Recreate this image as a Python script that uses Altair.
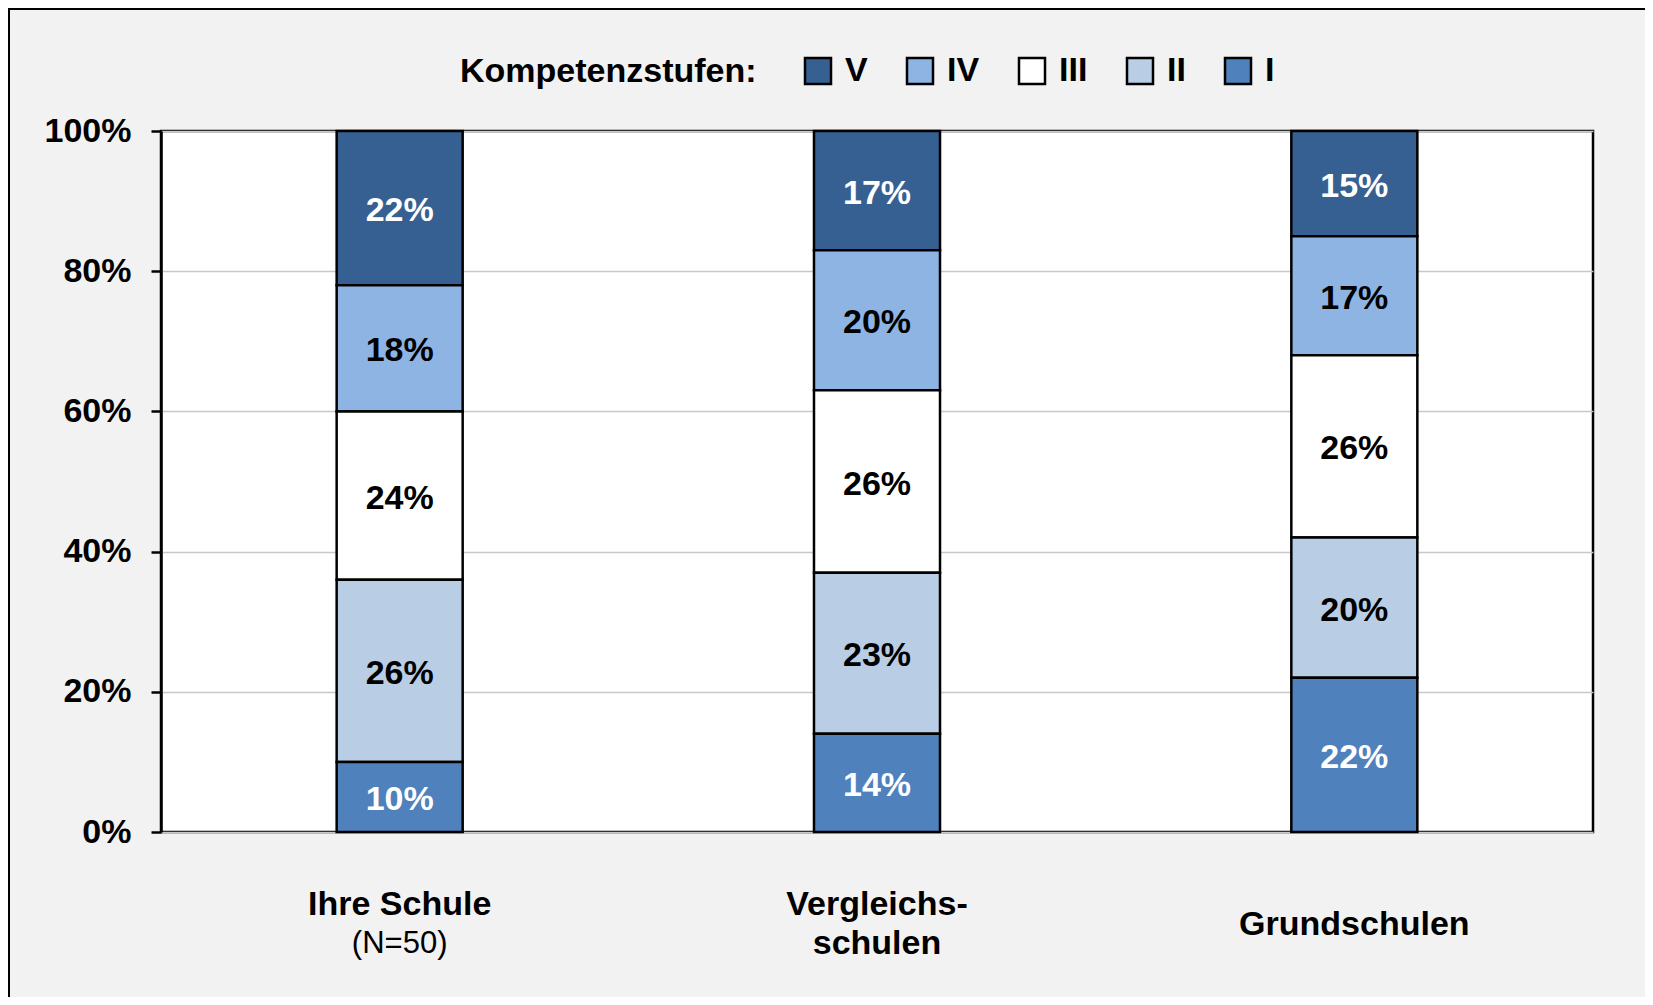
import altair as alt
import pandas as pd

categories = ["Ihre Schule", "Vergleichsschulen", "Grundschulen"]
levels = ["V", "IV", "III", "II", "I"]
stack_rank = [5, 4, 3, 2, 1]
values_V = [22, 17, 15]
values_IV = [18, 20, 17]
values_III = [24, 26, 26]
values_II = [26, 23, 20]
values_I = [10, 14, 22]
colors = ["#376092", "#8eb4e3", "#ffffff", "#b9cde5", "#4f81bd"]
label_main = ["Ihre Schule", "Vergleichs-\nschulen", "Grundschulen"]
label_sub = ["(N=50)", "", ""]
y_ticks = [0, 20, 40, 60, 80, 100]

FONT = "Liberation Sans"

series = {"V": values_V, "IV": values_IV, "III": values_III, "II": values_II, "I": values_I}
rows = []
for lvl, rk in zip(levels, stack_rank):
    for cat, v in zip(categories, series[lvl]):
        rows.append({"category": cat, "level": lvl, "rank": rk, "value": v})
df = pd.DataFrame(rows)
df_cat = pd.DataFrame({"category": categories, "main": label_main, "sub": label_sub})

W, H = 1432, 701
PAD = {"left": 153, "top": 123, "right": 52, "bottom": 165}
LINE = 39

xenc = alt.X("category:N", sort=categories,
             scale=alt.Scale(paddingInner=0.736, paddingOuter=0.368), axis=None)

bars = alt.Chart(df).mark_bar(stroke="black", strokeWidth=2.5).encode(
    x=xenc,
    y=alt.Y("value:Q", stack="zero", scale=alt.Scale(domain=[0, 100], nice=False),
            axis=alt.Axis(values=y_ticks, labelExpr="datum.value + '%'", title=None,
                          labelFont=FONT, labelFontSize=34, labelFontWeight="bold",
                          labelColor="black", labelPadding=20,
                          domainColor="black", domainWidth=2.5,
                          tickColor="black", tickWidth=2.5, tickSize=10,
                          gridColor="#c8c8c8", gridWidth=1.5)),
    color=alt.Color("level:N", scale=alt.Scale(domain=levels, range=colors),
                    legend=alt.Legend(title="Kompetenzstufen:", orient="none",
                                      legendX=299, legendY=-77, direction="horizontal",
                                      titleOrient="left", titleFont=FONT, titleFontSize=34,
                                      titleFontWeight="bold", titleColor="black",
                                      titleLimit=500, labelLimit=200,
                                      titlePadding=44, labelFont=FONT, labelFontSize=34,
                                      labelFontWeight="bold", labelColor="black",
                                      symbolType="square", symbolSize=676,
                                      symbolStrokeColor="black", symbolStrokeWidth=2.5,
                                      symbolOpacity=1, labelOffset=10, columnPadding=34,
                                      padding=0)),
    order=alt.Order("rank:Q", sort="ascending"),
)

texts = alt.Chart(df).transform_stack(
    stack="value", as_=["y0", "y1"], groupby=["category"],
    sort=[alt.SortField("rank", order="ascending")]
).transform_calculate(
    mid="(datum.y0 + datum.y1) / 2", label="datum.value + '%'"
).mark_text(font=FONT, fontSize=34, fontWeight="bold", baseline="middle", dy=3).encode(
    x=xenc,
    y=alt.Y("mid:Q", title=None),
    text="label:N",
    color=alt.condition("datum.level == 'V' || datum.level == 'I'",
                        alt.value("white"), alt.value("black")),
)

two_lines = "indexof(datum.main, '\\n') >= 0 || datum.sub != ''"

cat_two = alt.Chart(df_cat).transform_filter(two_lines).mark_text(
    font=FONT, fontSize=34, fontWeight="bold", baseline="middle", lineBreak="\n",
    lineHeight=LINE, color="black").encode(
    x=xenc, y=alt.value(H + 73), text="main:N")

cat_one = alt.Chart(df_cat).transform_filter("!(" + two_lines + ")").mark_text(
    font=FONT, fontSize=34, fontWeight="bold", baseline="middle", color="black").encode(
    x=xenc, y=alt.value(H + 73 + LINE / 2), text="main:N")

cat_sub = alt.Chart(df_cat).transform_filter("datum.sub != ''").mark_text(
    font=FONT, fontSize=31, fontWeight="normal", baseline="middle", color="black").encode(
    x=xenc, y=alt.value(H + 73 + LINE), text="sub:N")

frame = alt.Data(values=[{"f": 1}])
left_border = alt.Chart(frame).mark_rule(color="black", strokeWidth=2).encode(
    x=alt.value(-152), y=alt.value(-123), y2=alt.value(H + PAD["bottom"]))
top_border = alt.Chart(frame).mark_rule(color="black", strokeWidth=2).encode(
    x=alt.value(-153), x2=alt.value(W + PAD["right"]), y=alt.value(-122))

chart = alt.layer(bars, texts, cat_two, cat_one, cat_sub, left_border, top_border).properties(
    width=W, height=H, padding=PAD,
    autosize=alt.AutoSizeParams(type="none"),
    background="#f2f2f2",
).configure_view(stroke="black", strokeWidth=2.5, fill="white")

chart.save("out.html", embed_options={"renderer": "svg", "actions": False})
